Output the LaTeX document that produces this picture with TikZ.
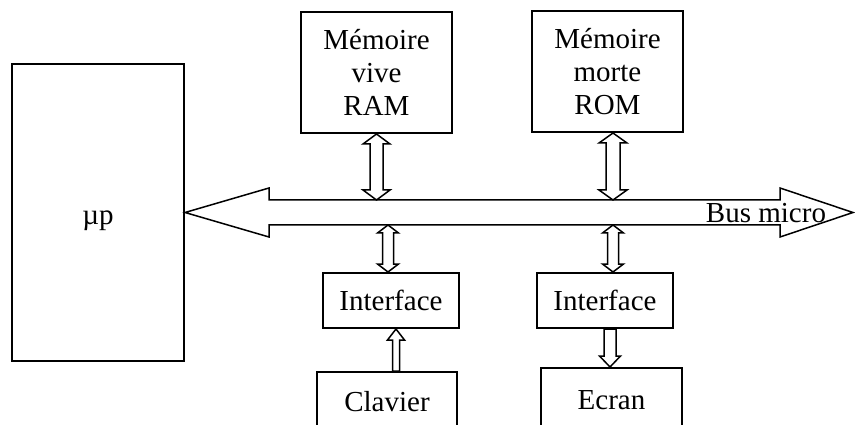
\documentclass[tikz,border=0pt]{standalone}
\usepackage{fontspec}
\setmainfont{Liberation Serif}
\usetikzlibrary{calc}
\tikzset{
  box/.style={draw, line width=2pt, align=center, inner sep=0pt, font=\fontsize{29}{33}\selectfont},
  arr/.style={draw, line width=1.5pt, line join=miter},
  lbl/.style={font=\fontsize{29}{33}\selectfont, inner sep=0pt},
}
% double-headed hollow vertical arrow: #1 top point, #2 bottom point, #3 shaft half width, #4 head half width, #5 head length
\newcommand\dblarrow[5]{%
  \draw[arr] let \p1=#1, \p2=#2 in
    (\p1) -- (\x1+#4pt,\y1-#5pt) -- (\x1+#3pt,\y1-#5pt) -- (\x1+#3pt,\y2+#5pt)
    -- (\x1+#4pt,\y2+#5pt) -- (\x1,\y2) -- (\x1-#4pt,\y2+#5pt) -- (\x1-#3pt,\y2+#5pt)
    -- (\x1-#3pt,\y1-#5pt) -- (\x1-#4pt,\y1-#5pt) -- cycle;}
% single-headed hollow vertical arrow: #1 tip, #2 tail, #3 shaft half, #4 head half, #5 signed head length
\newcommand\sglarrow[5]{%
  \draw[arr] let \p1=#1, \p2=#2 in
    (\p1) -- (\x1+#4pt,\y1+#5pt) -- (\x1+#3pt,\y1+#5pt) -- (\x1+#3pt,\y2)
    -- (\x1-#3pt,\y2) -- (\x1-#3pt,\y1+#5pt) -- (\x1-#4pt,\y1+#5pt) -- cycle;}
\begin{document}
\begin{tikzpicture}[x=1pt,y=1pt]
\useasboundingbox (0,0) rectangle (855,-425);
\clip (0,0) rectangle (855,-425);
% boxes
\node[box, minimum width=172pt, minimum height=297pt] (up) at (98,-212.5) {};
\node[lbl, anchor=base] (uptext) at (98,-225) {µp};
\node[box, minimum width=151pt, minimum height=121pt] (ram) at (376.5,-72.5) {Mémoire\\vive\\RAM};
\node[box, minimum width=151pt, minimum height=121pt] (rom) at (607.5,-71.5) {Mémoire\\morte\\ROM};
\node[box, minimum width=136pt, minimum height=55pt] (if1) at (391,-300.5) {Interface};
\node[box, minimum width=136pt, minimum height=55pt] (if2) at (605,-300.5) {Interface};
\node[box, minimum width=140pt, minimum height=60pt] (clav) at (387,-402) {Clavier};
\node[box, minimum width=141pt, minimum height=64pt] (ecran) at (611.5,-400) {Ecran};
% bus
\coordinate (bustop) at (0,-200);
\coordinate (busbot) at (0,-225);
\draw[arr] (up.east) -- (269,-188) -- (269,-200) -- (780,-200) -- (780,-188) -- (853,-212.5)
  -- (780,-237) -- (780,-225) -- (269,-225) -- (269,-237) -- cycle;
\node[lbl] (buslbl) at (766,-213.5) {Bus micro};
% connectors
\dblarrow{(ram.south)}{(ram.south |- bustop)}{6.5}{13.5}{10}
\dblarrow{([xshift=5.5pt]rom.south)}{([xshift=5.5pt]rom.south |- bustop)}{7}{14}{10}
\dblarrow{([xshift=-3pt]if1.north |- busbot)}{([xshift=-3pt]if1.north)}{5.5}{10.5}{8}
\dblarrow{([xshift=8pt]if2.north |- busbot)}{([xshift=8pt]if2.north)}{5.5}{10.5}{8}
\sglarrow{([xshift=5pt]if1.south)}{([xshift=5pt]if1.south |- clav.north)}{3.5}{8.5}{-11}
\sglarrow{([xshift=5pt]if2.south |- ecran.north)}{([xshift=5pt]if2.south)}{6}{10.5}{11}
\end{tikzpicture}
\end{document}
